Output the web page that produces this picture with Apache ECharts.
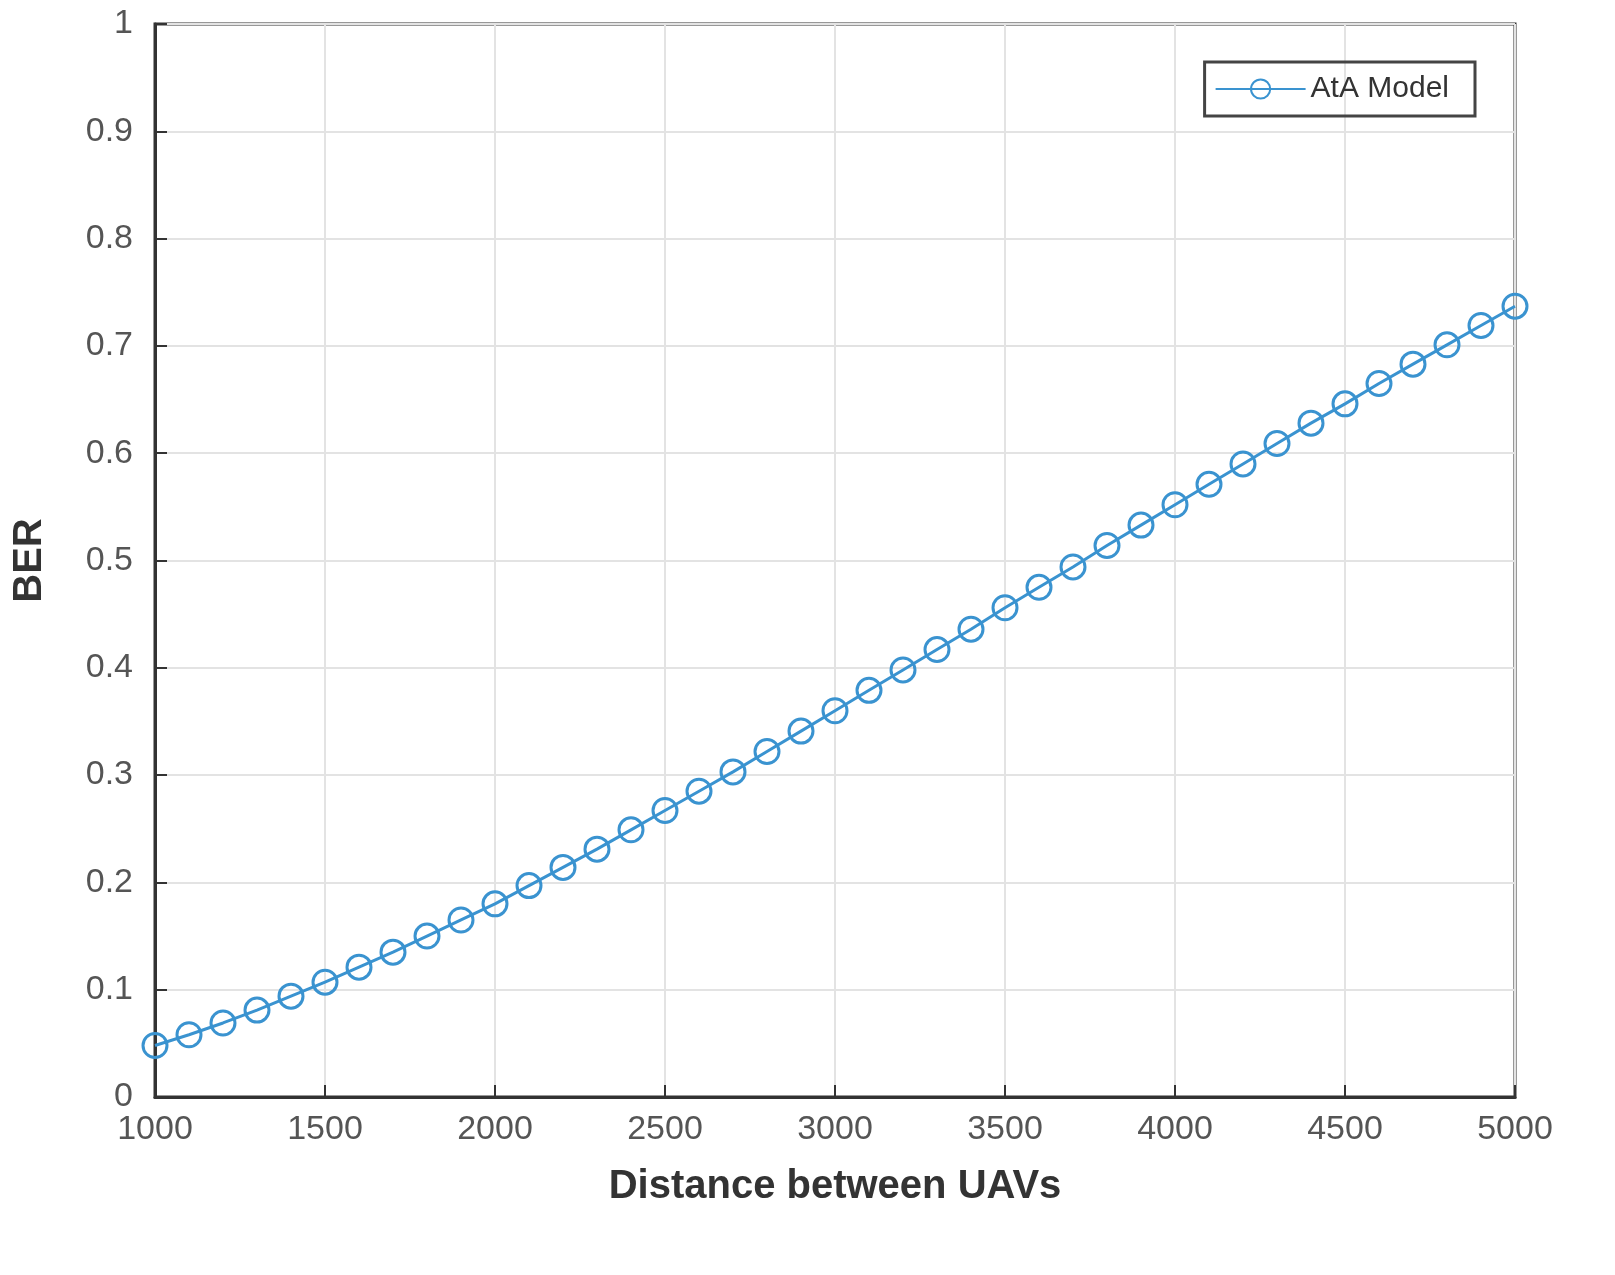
<!DOCTYPE html>
<html>
<head>
<meta charset="utf-8">
<script src="https://cdn.jsdelivr.net/npm/echarts@6/dist/echarts.min.js"></script>
<style>html,body{margin:0;padding:0;background:#fff}#c{width:1615px;height:1275px}</style>
</head>
<body>
<div id="c"></div>
<script>
// distance (m) and BER
var distance = [];
for (var d = 1000; d <= 5000; d += 100) distance.push(d);
var ber = [0.048, 0.058, 0.069, 0.081, 0.094, 0.107, 0.121, 0.135, 0.150, 0.165,
           0.180, 0.197, 0.214, 0.231, 0.249, 0.267, 0.285, 0.303, 0.322, 0.341,
           0.360, 0.379, 0.398, 0.417, 0.436, 0.456, 0.475, 0.494, 0.514, 0.533,
           0.552, 0.571, 0.590, 0.609, 0.628, 0.646, 0.665, 0.683, 0.701, 0.719, 0.737];

var chart = echarts.init(document.getElementById('c'));
var axisText = { color: '#555', fontSize: 34, fontFamily: 'Arial, Liberation Sans' };
var gridLine = { show: true, lineStyle: { color: '#e3e3e3', width: 2 } };
var frame = { show: true, onZero: false, lineStyle: { color: '#333', width: 3 } };
var ticks = { show: true, inside: true, length: 12, lineStyle: { color: '#333', width: 2 } };
var blue = '#3a93d0';

chart.setOption({
    animation: false,
    grid: { left: 155, right: 100, top: 24, bottom: 178, show: true, borderColor: '#333', borderWidth: 3 },
    legend: {
        right: 140, top: 62,
        itemWidth: 90, itemHeight: 24,
        borderColor: '#444', borderWidth: 3, padding: [12, 26, 12, 10],
        textStyle: { fontSize: 30, color: '#333', fontFamily: 'Arial, Liberation Sans' },
        data: ['AtA Model']
    },
    xAxis: {
        type: 'value', min: 1000, max: 5000, interval: 500,
        name: 'Distance between UAVs', nameLocation: 'middle', nameGap: 70,
        nameTextStyle: { fontSize: 40, fontWeight: 'bold', color: '#333', fontFamily: 'Arial, Liberation Sans' },
        axisLine: frame, axisTick: ticks, splitLine: gridLine,
        axisLabel: Object.assign({ margin: 16, formatter: function (v) { return String(v); } }, axisText)
    },
    yAxis: {
        type: 'value', min: 0, max: 1, interval: 0.1,
        name: 'BER', nameLocation: 'middle', nameGap: 105,
        nameTextStyle: { fontSize: 40, fontWeight: 'bold', color: '#333', fontFamily: 'Arial, Liberation Sans' },
        axisLine: frame, axisTick: ticks, splitLine: gridLine,
        axisLabel: Object.assign({ margin: 22 }, axisText)
    },
    series: [{
        name: 'AtA Model',
        type: 'line',
        data: distance.map(function (x, i) { return [x, ber[i]]; }),
        symbol: 'circle', symbolSize: 24,
        lineStyle: { width: 3, color: blue, type: 'solid' },
        itemStyle: { color: 'rgba(255,255,255,0)', borderColor: blue, borderWidth: 3 }
    }]
});
</script>
</body>
</html>
